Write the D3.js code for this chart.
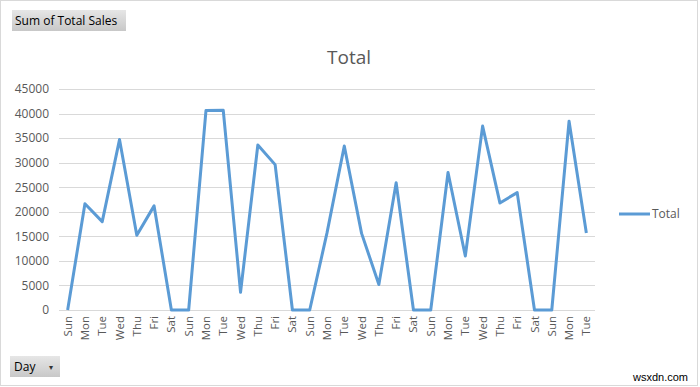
<!DOCTYPE html>
<html lang="en">
<head>
<meta charset="UTF-8" />
<title>Total</title>
<script src="https://cdn.jsdelivr.net/npm/d3@7/dist/d3.min.js"></script>
<style>
  body { margin: 0; background: #fff; font-family: "Open Sans", sans-serif; }
  svg { display: block; }
</style>
</head>
<body>
<svg id="chart" width="700" height="387"></svg>
<script>
const days = ["Sun","Mon","Tue","Wed","Thu","Fri","Sat",
  "Sun","Mon","Tue","Wed","Thu","Fri","Sat",
  "Sun","Mon","Tue","Wed","Thu","Fri","Sat",
  "Sun","Mon","Tue","Wed","Thu","Fri","Sat",
  "Sun","Mon","Tue"];
const totals = [0, 21650, 18000, 34700, 15200, 21200, 0,
  0, 40600, 40650, 3600, 33600, 29600, 0,
  0, 15700, 33400, 15600, 5200, 25900, 0,
  0, 28000, 11000, 37450, 21800, 23900, 0,
  0, 38450, 15700];
const yTicks = [0, 5000, 10000, 15000, 20000, 25000, 30000, 35000, 40000, 45000];

const svg = d3.select("#chart");
const grey = "#595959";
const lineColor = "#5B9BD5";

// outer chart border
svg.append("rect")
  .attr("x", 0.5).attr("y", 0.5)
  .attr("width", 697).attr("height", 385)
  .attr("fill", "#fff").attr("stroke", "#d9d9d9");

const plot = { left: 59, right: 595, top: 89, bottom: 310 };

const x = d3.scaleBand()
  .domain(d3.range(days.length))
  .range([plot.left, plot.right]);
const y = d3.scaleLinear()
  .domain([0, 45000])
  .range([plot.bottom, plot.top]);

// gridlines
svg.append("g")
  .selectAll("line")
  .data(yTicks)
  .join("line")
  .attr("x1", plot.left).attr("x2", plot.right)
  .attr("y1", d => Math.round(y(d)) + 0.5)
  .attr("y2", d => Math.round(y(d)) + 0.5)
  .attr("stroke", "#d9d9d9");

// y axis labels
const yAxis = svg.append("g")
  .attr("transform", `translate(${plot.left - 10},0)`)
  .call(d3.axisLeft(y).tickValues(yTicks).tickFormat(d3.format("d")).tickSize(0).tickPadding(0));
yAxis.select(".domain").remove();
yAxis.selectAll("text")
  .attr("fill", grey)
  .style("font-family", "'Open Sans', sans-serif")
  .style("font-size", "12px");

// x axis labels
const xAxis = svg.append("g")
  .attr("transform", `translate(0,${plot.bottom})`)
  .call(d3.axisBottom(x).tickFormat(i => days[i]).tickSize(0));
xAxis.select(".domain").remove();
xAxis.selectAll("text")
  .attr("fill", grey)
  .style("font-family", "'Open Sans', sans-serif")
  .style("font-size", "11.5px")
  .attr("transform", "rotate(-90)")
  .attr("text-anchor", "end")
  .attr("x", -6)
  .attr("y", 0)
  .attr("dy", "0.35em");

// line
const line = d3.line()
  .x((d, i) => x(i) + x.bandwidth() / 2)
  .y(d => y(d));

svg.append("path")
  .datum(totals)
  .attr("fill", "none")
  .attr("stroke", lineColor)
  .attr("stroke-width", 3)
  .attr("stroke-linejoin", "round")
  .attr("d", line);

// title
svg.append("text")
  .attr("x", 349).attr("y", 64)
  .attr("text-anchor", "middle")
  .attr("fill", grey)
  .style("font-size", "19px")
  .text("Total");

// legend
svg.append("line")
  .attr("x1", 619).attr("x2", 650)
  .attr("y1", 214).attr("y2", 214)
  .attr("stroke", lineColor).attr("stroke-width", 3);
svg.append("text")
  .attr("x", 652).attr("y", 218)
  .attr("fill", grey)
  .style("font-size", "12px")
  .text("Total");

// pivot field buttons
const grad = svg.append("defs").append("linearGradient")
  .attr("id", "btn").attr("x1", 0).attr("y1", 0).attr("x2", 0).attr("y2", 1);
grad.append("stop").attr("offset", "0%").attr("stop-color", "#e6e6e6");
grad.append("stop").attr("offset", "100%").attr("stop-color", "#c8c8c8");

svg.append("rect")
  .attr("x", 12).attr("y", 10).attr("width", 114).attr("height", 21)
  .attr("fill", "url(#btn)");
svg.append("text")
  .attr("x", 15).attr("y", 25)
  .attr("fill", "#000")
  .style("font-size", "12px")
  .text("Sum of Total Sales");

svg.append("rect")
  .attr("x", 10).attr("y", 356).attr("width", 50).attr("height", 21)
  .attr("fill", "url(#btn)");
svg.append("text")
  .attr("x", 14).attr("y", 371)
  .attr("fill", "#000")
  .style("font-size", "12px")
  .text("Day");
svg.append("text")
  .attr("x", 49).attr("y", 370)
  .attr("fill", "#333")
  .style("font-size", "8px")
  .text("▾");

// watermark
svg.append("text")
  .attr("x", 688).attr("y", 381)
  .attr("text-anchor", "end")
  .attr("fill", "#000")
  .style("font-family", "'Liberation Sans', sans-serif")
  .style("font-size", "11px")
  .text("wsxdn.com");
</script>
</body>
</html>
